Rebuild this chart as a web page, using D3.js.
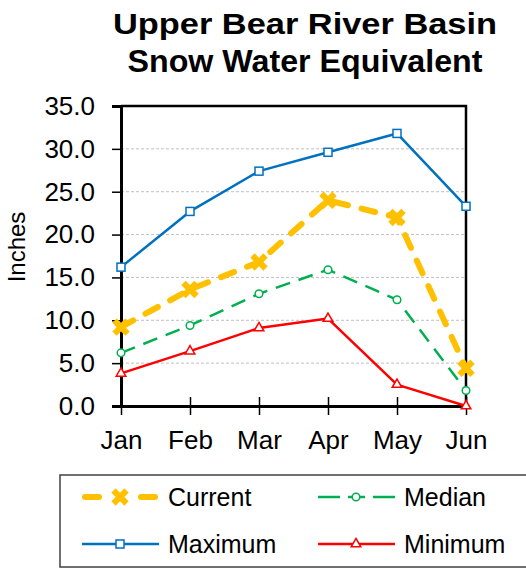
<!DOCTYPE html>
<html>
<head>
<meta charset="utf-8">
<script src="https://cdn.jsdelivr.net/npm/d3@7"></script>
<style>
  html, body { margin: 0; padding: 0; background: #fff; }
  svg { display: block; font-family: "Liberation Sans", Arial, sans-serif; }
</style>
</head>
<body>
<svg id="chart" width="526" height="568"></svg>
<script>
// Monthly snow water equivalent (inches), Upper Bear River Basin
const months  = ["Jan", "Feb", "Mar", "Apr", "May", "Jun"];
const current = [9.2, 13.6, 16.8, 24.0, 22.0, 4.4];
const median  = [6.2, 9.4, 13.1, 15.9, 12.4, 1.8];
const maximum = [16.2, 22.7, 27.4, 29.6, 31.8, 23.3];
const minimum = [3.8, 6.4, 9.1, 10.2, 2.5, 0.0];
const yTicks  = [0, 5, 10, 15, 20, 25, 30, 35];

const svg = d3.select("#chart");

const plot = { left: 121, right: 466, top: 106, bottom: 406 };

const x = d3.scalePoint().domain(months).range([plot.left, plot.right]);
const y = d3.scaleLinear().domain([0, 35]).range([plot.bottom, plot.top]);

// Title
svg.append("text")
  .attr("x", 305).attr("y", 34)
  .attr("text-anchor", "middle")
  .attr("font-size", 29).attr("font-weight", "bold")
  .attr("textLength", 384).attr("lengthAdjust", "spacingAndGlyphs")
  .text("Upper Bear River Basin");
svg.append("text")
  .attr("x", 305).attr("y", 72)
  .attr("text-anchor", "middle")
  .attr("font-size", 32).attr("font-weight", "bold")
  .attr("textLength", 355).attr("lengthAdjust", "spacingAndGlyphs")
  .text("Snow Water Equivalent");

// Horizontal gridlines
svg.append("g")
  .selectAll("line")
  .data(yTicks.filter(v => v > 0 && v < 35))
  .join("line")
  .attr("x1", plot.left).attr("x2", plot.right)
  .attr("y1", d => y(d)).attr("y2", d => y(d))
  .attr("stroke", "#bfbfbf").attr("stroke-width", 1)
  .attr("stroke-dasharray", "3,2");

// Plot frame (top and right)
svg.append("path")
  .attr("d", `M${plot.left},${plot.top}H${plot.right}V${plot.bottom}`)
  .attr("fill", "none").attr("stroke", "#000").attr("stroke-width", 2.5);

// Y axis
const yAxis = svg.append("g")
  .attr("transform", `translate(${plot.left},0)`)
  .call(d3.axisLeft(y).tickValues(yTicks).tickFormat(d3.format(".1f")).tickSize(9).tickPadding(17));
yAxis.select(".domain").attr("stroke", "#000").attr("stroke-width", 3);
yAxis.selectAll(".tick line").attr("stroke", "#000").attr("stroke-width", 1.5);
yAxis.selectAll(".tick text")
  .attr("font-size", 26).attr("fill", "#000")
  .attr("font-family", "'Liberation Sans', Arial, sans-serif");

// X axis, ticks crossing the line
const xAxis = svg.append("g")
  .attr("transform", `translate(0,${plot.bottom})`)
  .call(d3.axisBottom(x).tickSizeInner(9).tickSizeOuter(0).tickPadding(16));
xAxis.select(".domain").attr("stroke", "#000").attr("stroke-width", 3);
xAxis.selectAll(".tick line").attr("y1", -9).attr("y2", 9)
  .attr("stroke", "#000").attr("stroke-width", 1.5);
xAxis.selectAll(".tick text")
  .attr("font-size", 26).attr("fill", "#000")
  .attr("font-family", "'Liberation Sans', Arial, sans-serif");

// Y axis title
svg.append("text")
  .attr("transform", "translate(25,247) rotate(-90)")
  .attr("text-anchor", "middle")
  .attr("font-size", 24)
  .text("Inches");

// Series definitions
const series = [
  { name: "Current", values: current, color: "#FFC000", width: 6, dash: "14,14", cap: "round", marker: "x" },
  { name: "Median",  values: median,  color: "#00B050", width: 2.5, dash: "15,9", cap: "butt", marker: "circle" },
  { name: "Maximum", values: maximum, color: "#0070C0", width: 2.5, dash: null, cap: "butt", marker: "square" },
  { name: "Minimum", values: minimum, color: "#FF0000", width: 2.5, dash: null, cap: "butt", marker: "triangle" }
];

const line = d3.line().x((d, i) => x(months[i])).y(d => y(d));

function drawMarker(g, type, color, cx, cy) {
  if (type === "x") {
    g.append("path")
      .attr("d", d3.symbol(d3.symbolCross, 190)())
      .attr("transform", `translate(${cx},${cy}) rotate(45)`)
      .attr("fill", color);
  } else if (type === "circle") {
    g.append("circle").attr("cx", cx).attr("cy", cy).attr("r", 3.8)
      .attr("fill", "#fff").attr("stroke", color).attr("stroke-width", 1.5);
  } else if (type === "square") {
    g.append("rect").attr("x", cx - 4).attr("y", cy - 4).attr("width", 8).attr("height", 8)
      .attr("fill", "#fff").attr("stroke", color).attr("stroke-width", 1.5);
  } else if (type === "triangle") {
    g.append("path")
      .attr("d", d3.symbol(d3.symbolTriangle, 40)())
      .attr("transform", `translate(${cx},${cy})`)
      .attr("fill", "#fff").attr("stroke", color).attr("stroke-width", 1.5);
  }
}

// Draw series lines and markers (later series underneath the Current line)
[...series].reverse().forEach(s => {
  const g = svg.append("g");
  g.append("path")
    .attr("d", line(s.values))
    .attr("fill", "none")
    .attr("stroke", s.color)
    .attr("stroke-width", s.width)
    .attr("stroke-linecap", s.cap)
    .attr("stroke-linejoin", "round")
    .attr("stroke-dasharray", s.dash);
  s.values.forEach((v, i) => drawMarker(g, s.marker, s.color, x(months[i]), y(v)));
});

// Legend
const legend = svg.append("g");
legend.append("rect")
  .attr("x", 60).attr("y", 475).attr("width", 480).attr("height", 92)
  .attr("fill", "#fff").attr("stroke", "#404040").attr("stroke-width", 1.5);

const legendPos = [
  { lx: 82,  ly: 497 },
  { lx: 318, ly: 497 },
  { lx: 82,  ly: 544 },
  { lx: 318, ly: 544 }
];
series.forEach((s, i) => {
  const p = legendPos[i];
  const g = legend.append("g");
  if (s.marker === "x") {
    [[p.lx + 3, p.lx + 17], [p.lx + 59, p.lx + 73]].forEach(([a, b]) => {
      g.append("line").attr("x1", a).attr("x2", b).attr("y1", p.ly).attr("y2", p.ly)
        .attr("stroke", s.color).attr("stroke-width", s.width).attr("stroke-linecap", "round");
    });
  } else if (s.dash) {
    [[p.lx, p.lx + 22], [p.lx + 30, p.lx + 47], [p.lx + 55, p.lx + 77]].forEach(([a, b]) => {
      g.append("line").attr("x1", a).attr("x2", b).attr("y1", p.ly).attr("y2", p.ly)
        .attr("stroke", s.color).attr("stroke-width", s.width);
    });
  } else {
    g.append("line").attr("x1", p.lx).attr("x2", p.lx + 77).attr("y1", p.ly).attr("y2", p.ly)
      .attr("stroke", s.color).attr("stroke-width", s.width);
  }
  drawMarker(g, s.marker, s.color, p.lx + 38, p.ly);
  g.append("text")
    .attr("x", p.lx + 86).attr("y", p.ly + 9)
    .attr("font-size", 25)
    .text(s.name);
});
</script>
</body>
</html>
